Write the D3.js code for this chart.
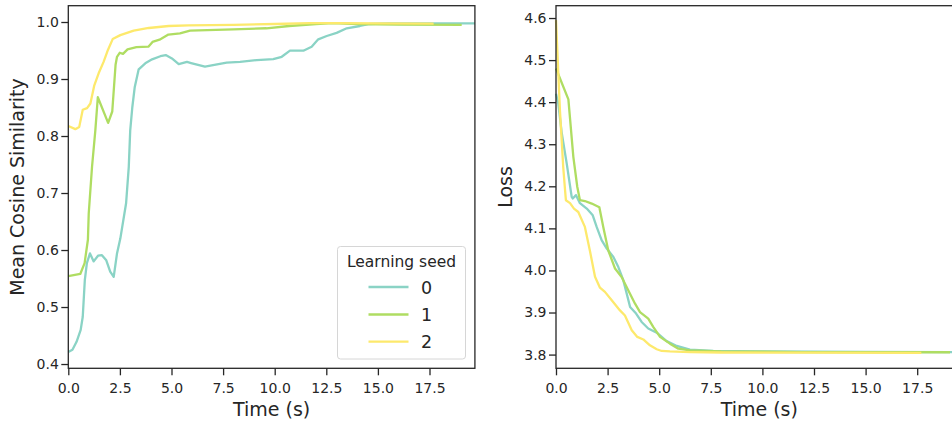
<!DOCTYPE html>
<html>
<head>
<meta charset="utf-8">
<script src="https://cdn.jsdelivr.net/npm/d3@7"></script>
<style>
  html, body { margin: 0; padding: 0; background: #fff; }
  svg { display: block; font-family: "DejaVu Sans", sans-serif; }
</style>
</head>
<body>
<svg id="chart" width="952" height="424"></svg>
<script>
// ---------- data ----------
const seeds = ["0", "1", "2"];
const seedColors = ["#8ad3c5", "#afdd62", "#fde96c"];

const xTicks = [0, 2.5, 5, 7.5, 10, 12.5, 15, 17.5];
const cosTicks = [0.4, 0.5, 0.6, 0.7, 0.8, 0.9, 1.0];
const lossTicks = [3.8, 3.9, 4.0, 4.1, 4.2, 4.3, 4.4, 4.5, 4.6];

// Mean cosine similarity
const cosTime0 = [0.0, 0.2, 0.4, 0.6, 0.7, 0.8, 0.9, 1.05, 1.23, 1.44, 1.63, 1.84, 2.03, 2.2, 2.36, 2.52, 2.8, 2.93, 3.0, 3.1, 3.22, 3.41, 3.73, 4.06, 4.46, 4.72, 5.02, 5.35, 5.75, 5.95, 6.62, 7.67, 8.32, 9.13, 9.93, 10.34, 10.74, 11.39, 11.79, 12.11, 12.52, 13.0, 13.49, 14.13, 14.6, 15.5, 17.0, 19.7];
const cosSeed0 = [0.421, 0.425, 0.439, 0.46, 0.483, 0.547, 0.577, 0.594, 0.580, 0.590, 0.591, 0.582, 0.562, 0.553, 0.594, 0.620, 0.682, 0.746, 0.81, 0.85, 0.886, 0.917, 0.9275, 0.9345, 0.940, 0.942, 0.936, 0.926, 0.930, 0.928, 0.9216, 0.9287, 0.930, 0.9333, 0.935, 0.939, 0.9497, 0.9497, 0.9567, 0.9696, 0.9754, 0.981, 0.989, 0.993, 0.9965, 0.9975, 0.9975, 0.9975];

const cosTime1 = [0.0, 0.58, 0.79, 0.95, 0.99, 1.15, 1.31, 1.43, 1.93, 2.13, 2.29, 2.36, 2.49, 2.65, 2.87, 3.3, 3.88, 4.08, 4.42, 4.85, 5.41, 5.9, 8.0, 9.6, 10.7, 12.0, 12.8, 14.0, 16.0, 19.06];
const cosSeed1 = [0.554, 0.558, 0.577, 0.618, 0.664, 0.746, 0.81, 0.868, 0.823, 0.843, 0.925, 0.939, 0.946, 0.944, 0.952, 0.956, 0.9567, 0.965, 0.969, 0.978, 0.980, 0.985, 0.987, 0.989, 0.993, 0.9965, 0.998, 0.9965, 0.9955, 0.995];

const cosTime2 = [0.0, 0.34, 0.53, 0.70, 0.91, 1.07, 1.26, 1.47, 1.71, 1.92, 2.15, 2.52, 3.17, 3.9, 4.86, 5.83, 8.0, 10.0, 11.7, 13.0, 15.0, 17.7];
const cosSeed2 = [0.8175, 0.812, 0.816, 0.846, 0.849, 0.857, 0.889, 0.910, 0.930, 0.951, 0.970, 0.977, 0.985, 0.9895, 0.993, 0.994, 0.995, 0.9965, 0.998, 0.998, 0.9975, 0.997];

// Loss
const lossTime0 = [0.0, 0.11, 0.28, 0.52, 0.76, 0.81, 0.97, 1.16, 1.49, 1.78, 1.97, 2.21, 2.46, 2.78, 3.02, 3.26, 3.59, 3.88, 4.15, 4.47, 4.88, 5.36, 5.85, 6.49, 7.62, 10.0, 15.0, 19.7];
const lossSeed0 = [4.42, 4.397, 4.326, 4.254, 4.175, 4.171, 4.179, 4.16, 4.147, 4.131, 4.1035, 4.072, 4.052, 4.032, 4.008, 3.977, 3.913, 3.8975, 3.8775, 3.862, 3.852, 3.832, 3.8205, 3.812, 3.8086, 3.8075, 3.8065, 3.806];

const lossTime1 = [0.0, 0.6, 0.84, 1.03, 1.16, 1.40, 1.73, 2.10, 2.29, 2.53, 2.86, 3.18, 3.50, 3.83, 4.07, 4.47, 4.71, 5.04, 5.52, 5.93, 6.49, 8.0, 12.0, 19.09];
const lossSeed1 = [4.48, 4.4066, 4.27, 4.199, 4.167, 4.165, 4.159, 4.15, 4.1035, 4.048, 4.0046, 3.9846, 3.953, 3.921, 3.901, 3.8856, 3.866, 3.842, 3.826, 3.814, 3.810, 3.8075, 3.806, 3.8055];

const lossTime2 = [0.0, 0.19, 0.35, 0.44, 0.48, 0.68, 0.87, 1.08, 1.40, 1.65, 1.89, 2.13, 2.37, 2.70, 3.10, 3.34, 3.67, 3.94, 4.23, 4.55, 4.88, 5.12, 5.52, 6.49, 8.0, 12.0, 17.7];
const lossSeed2 = [4.595, 4.381, 4.246, 4.19, 4.167, 4.16, 4.147, 4.139, 4.1035, 4.045, 3.985, 3.959, 3.949, 3.929, 3.905, 3.893, 3.858, 3.842, 3.836, 3.822, 3.8126, 3.8086, 3.8075, 3.806, 3.805, 3.8045, 3.804];

// ---------- drawing ----------
const svg = d3.select("#chart");
const ink = "#262626";
const tickFont = 14;
const labelFont = 19;

function zip(t, v) { return t.map((d, i) => ({ t: d, v: v[i] })); }

function panel(opts) {
  const { left, right, plotTop, plotBottom, xDomain, yDomain, yTickVals, series, yLabel, yLabelX } = opts;
  const x = d3.scaleLinear().domain(xDomain).range([left, right]);
  const y = d3.scaleLinear().domain(yDomain).range([plotBottom, plotTop]);
  const g = svg.append("g");

  const line = d3.line().x(d => x(d.t)).y(d => y(d.v));
  series.forEach((s, i) => {
    g.append("path")
      .datum(s)
      .attr("fill", "none")
      .attr("stroke", seedColors[i])
      .attr("stroke-width", 2.3)
      .attr("stroke-linejoin", "round")
      .attr("d", line);
  });

  g.append("rect")
    .attr("x", left).attr("y", plotTop)
    .attr("width", right - left).attr("height", plotBottom - plotTop)
    .attr("fill", "none").attr("stroke", ink).attr("stroke-width", 1.3);

  const xAxis = g.append("g").attr("transform", `translate(0,${plotBottom})`)
    .call(d3.axisBottom(x).tickValues(xTicks).tickFormat(d3.format(".1f")).tickSize(7).tickPadding(7.5));
  const yAxis = g.append("g").attr("transform", `translate(${left},0)`)
    .call(d3.axisLeft(y).tickValues(yTickVals).tickFormat(d3.format(".1f")).tickSize(7).tickPadding(2.5));
  [xAxis, yAxis].forEach(a => {
    a.select(".domain").remove();
    a.selectAll(".tick line").attr("stroke", ink).attr("stroke-width", 1.3);
    a.selectAll(".tick text").attr("fill", ink)
      .attr("font-family", "DejaVu Sans").attr("font-size", tickFont);
  });

  g.append("text")
    .attr("x", (left + right) / 2)
    .attr("y", 415.5)
    .attr("text-anchor", "middle")
    .attr("fill", ink)
    .attr("font-size", labelFont)
    .text("Time (s)");

  g.append("text")
    .attr("transform", `translate(${yLabelX},${(plotTop + plotBottom) / 2}) rotate(-90)`)
    .attr("text-anchor", "middle")
    .attr("fill", ink)
    .attr("font-size", labelFont)
    .text(yLabel);
}

const plotTop = 5.7, plotBottom = 368.3;
const pxPerSec = 20.64;

panel({
  left: 68.3, right: 68.3 + 19.7 * pxPerSec, plotTop, plotBottom,
  xDomain: [0, 19.7], yDomain: [0.3925, 1.0286], yTickVals: cosTicks,
  series: [zip(cosTime0, cosSeed0), zip(cosTime1, cosSeed1), zip(cosTime2, cosSeed2)],
  yLabel: "Mean Cosine Similarity", yLabelX: 24
});

panel({
  left: 556, right: 556 + 19.7 * pxPerSec, plotTop, plotBottom,
  xDomain: [0, 19.7], yDomain: [3.7674, 4.6293], yTickVals: lossTicks,
  series: [zip(lossTime0, lossSeed0), zip(lossTime1, lossSeed1), zip(lossTime2, lossSeed2)],
  yLabel: "Loss", yLabelX: 512
});

// legend
const lg = svg.append("g");
lg.append("rect")
  .attr("x", 337.5).attr("y", 246.5).attr("width", 128).attr("height", 112.5)
  .attr("rx", 3).attr("ry", 3)
  .attr("fill", "#ffffff").attr("fill-opacity", 0.85)
  .attr("stroke", "#d6d6d6").attr("stroke-width", 1);
lg.append("text")
  .attr("x", 401.5).attr("y", 267)
  .attr("text-anchor", "middle")
  .attr("fill", ink).attr("font-size", 15.5)
  .text("Learning seed");
const legendY = [287, 314.5, 341.7];
seeds.forEach((s, i) => {
  lg.append("line")
    .attr("x1", 368.5).attr("x2", 408.5)
    .attr("y1", legendY[i]).attr("y2", legendY[i])
    .attr("stroke", seedColors[i]).attr("stroke-width", 2.3);
  lg.append("text")
    .attr("x", 421).attr("y", legendY[i] + 6.5)
    .attr("fill", ink).attr("font-size", 17.5)
    .text(s);
});
</script>
</body>
</html>
